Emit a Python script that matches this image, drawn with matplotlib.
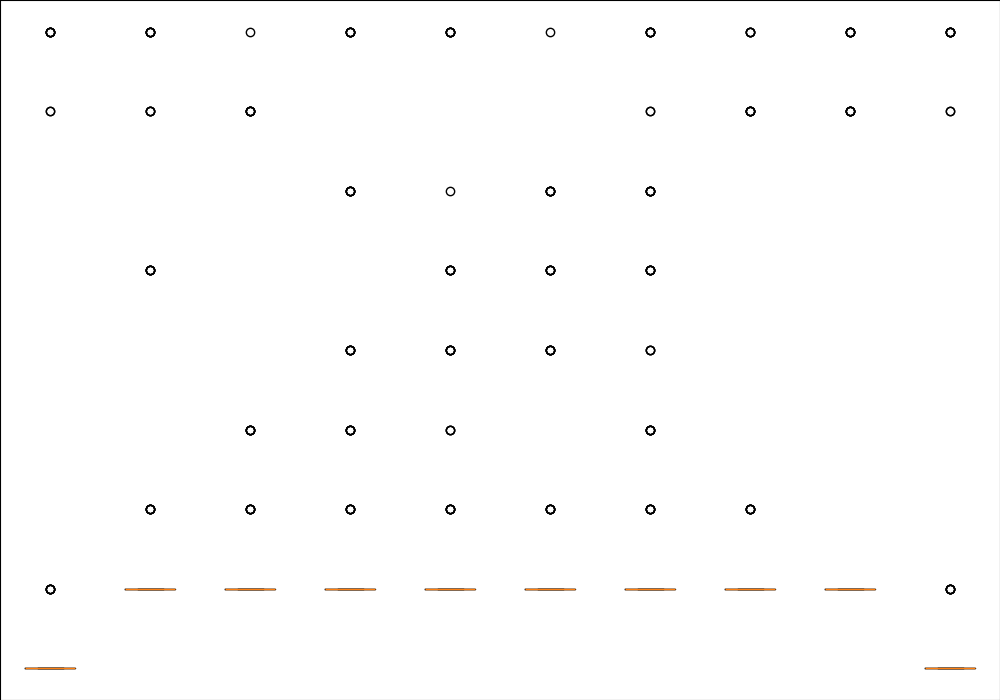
import matplotlib
matplotlib.use('Agg')
import matplotlib.pyplot as plt
import numpy as np

# typical value of each group (box collapses onto it)
base_values = [0, 1, 1, 1, 1, 1, 1, 1, 1, 0]
base_count = 200

# outlying values per group as (value, how many times it occurs)
outliers = [
    [(8, 6), (7, 2), (1, 6)],
    [(8, 6), (7, 4), (5, 6), (2, 6)],
    [(8, 1), (7, 6), (3, 6), (2, 6)],
    [(8, 6), (6, 6), (4, 6), (3, 6), (2, 6)],
    [(8, 6), (6, 1), (5, 6), (4, 6), (3, 3), (2, 6)],
    [(8, 1), (6, 6), (5, 6), (4, 6), (2, 6)],
    [(8, 6), (7, 2), (6, 6), (5, 6), (4, 3), (3, 6), (2, 6)],
    [(8, 4), (7, 6), (2, 6)],
    [(8, 6), (7, 6)],
    [(8, 6), (7, 2), (1, 6)],
]

data = []
for b, outs in zip(base_values, outliers):
    vals = [b] * base_count
    for v, n in outs:
        vals += [v] * n
    data.append(vals)

fig = plt.figure(figsize=(10, 7), dpi=100)
ax = fig.add_axes([0, 0, 1, 1])
ax.boxplot(data)
ax.set_xticks([])
ax.set_yticks([])

fig.savefig('out.png', dpi=100)
